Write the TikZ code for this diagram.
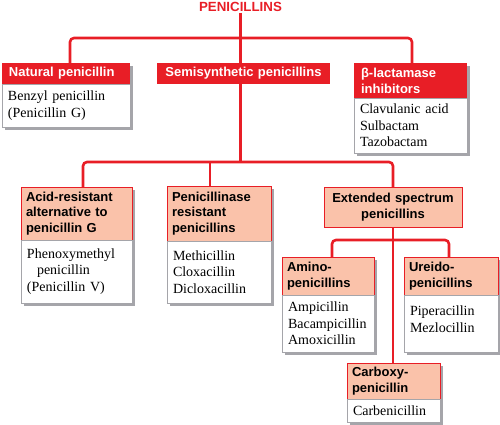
\documentclass[tikz,border=0pt]{standalone}
\usepackage{fontspec}
\setmainfont{Liberation Serif}
\setsansfont{Liberation Sans}
\usetikzlibrary{shadows}
\definecolor{penred}{RGB}{232,30,38}
\definecolor{penpink}{RGB}{250,194,170}
\definecolor{pengray}{RGB}{165,165,170}

\begin{document}
\begin{tikzpicture}[x=1pt,y=-1pt,
  link/.style={penred,line width=2.6pt,rounded corners=4pt},
  hdr/.style={anchor=north west,fill=penred,text=white,inner xsep=7pt,inner ysep=2pt,outer sep=0pt,align=left,font=\sffamily\bfseries\fontsize{13}{15.7}\selectfont},
  sub/.style={anchor=north west,fill=penpink,draw=penred,line width=0.9pt,inner xsep=5pt,inner ysep=2pt,outer sep=0pt,align=left,font=\sffamily\bfseries\fontsize{13}{15.7}\selectfont},
  txt/.style={anchor=north west,fill=white,draw=pengray,line width=0.8pt,inner xsep=6pt,inner ysep=3pt,outer sep=0pt,align=left,font=\fontsize{14}{16.5}\selectfont},
  shade/.style={drop shadow={shadow xshift=3pt,shadow yshift=-3pt,fill=pengray,opacity=1}}]
\useasboundingbox (0,0) rectangle (500,424);

\node[text=penred,inner sep=1pt,font=\sffamily\bfseries\fontsize{13.3}{15}\selectfont] (pen) at (240.5,7) {PENICILLINS};

% first row
\node[hdr,shade,text width=114pt,minimum height=21pt] (nat) at (2,63) {Natural penicillin};
\node[txt,shade,text width=116pt,minimum height=43pt] (natb) at (nat.south west) {Benzyl penicillin\\(Penicillin G)};
\node[hdr,text width=159pt,minimum height=21pt,align=center] (semi) at (157,63) {Semisynthetic penicillins};
\node[hdr,shade,text width=99pt,minimum height=35pt] (beta) at (354,63) {β-lactamase\\inhibitors};
\node[txt,shade,text width=101pt,minimum height=55pt] (betab) at (beta.south west) {Clavulanic acid\\Sulbactam\\Tazobactam};

% second row
\node[sub,shade,text width=101pt,minimum height=53pt] (acid) at (21,187) {Acid-resistant\\alternative to\\penicillin G};
\node[txt,shade,text width=99pt,minimum height=63pt] (acidb) at (acid.south west) {Phenoxymethyl\\\hspace*{10pt}penicillin\\(Penicillin V)};
\node[sub,shade,text width=94pt,minimum height=55pt] (pcase) at (167,186) {Penicillinase\\resistant\\penicillins};
\node[txt,shade,text width=92pt,minimum height=62pt] (pcaseb) at (pcase.south west) {Methicillin\\Cloxacillin\\Dicloxacillin};
\node[sub,text width=128pt,minimum height=40pt,align=center] (ext) at (324,187) {Extended spectrum\\penicillins};

% third row
\node[sub,shade,text width=82pt,minimum height=38pt] (amino) at (282,257) {Amino-\\penicillins};
\node[txt,shade,text width=80pt,minimum height=57pt] (aminob) at (amino.south west) {Ampicillin\\Bacampicillin\\Amoxicillin};
\node[sub,shade,text width=84pt,minimum height=38pt] (ureido) at (404,257) {Ureido-\\penicillins};
\node[txt,shade,text width=82pt,minimum height=57pt,text depth=25pt] (ureidob) at (ureido.south west) {Piperacillin\\Mezlocillin};
\node[sub,shade,text width=83pt,minimum height=36pt] (carb) at (347,363) {Carboxy-\\penicillin};
\node[txt,shade,text width=81pt,minimum height=23pt] (carbb) at (carb.south west) {Carbenicillin};

% connectors
\coordinate (j1) at (pen.south |- 0,38);
\coordinate (j2) at (pen.south |- 0,162);
\coordinate (j3) at (ext.south |- 0,240);
\draw[link] (pen.south) -- (pen.south |- semi.north);
\draw[link] ([xshift=4pt]nat.north) |- (j1) -| ([xshift=1.5pt]beta.north);
\draw[link] (j2 |- semi.south) -- (j2);
\draw[link] ([xshift=6.5pt]acid.north) |- (j2) -| (ext.north);
\draw[link] ([xshift=-9pt]pcase.north) -- ([xshift=-9pt]pcase.north |- j2);
\draw[link] (ext.south) -- (ext.south |- carb.north);
\draw[link] ([xshift=4pt]amino.north) |- (j3) -| ([xshift=-2pt]ureido.north);
\end{tikzpicture}
\end{document}
